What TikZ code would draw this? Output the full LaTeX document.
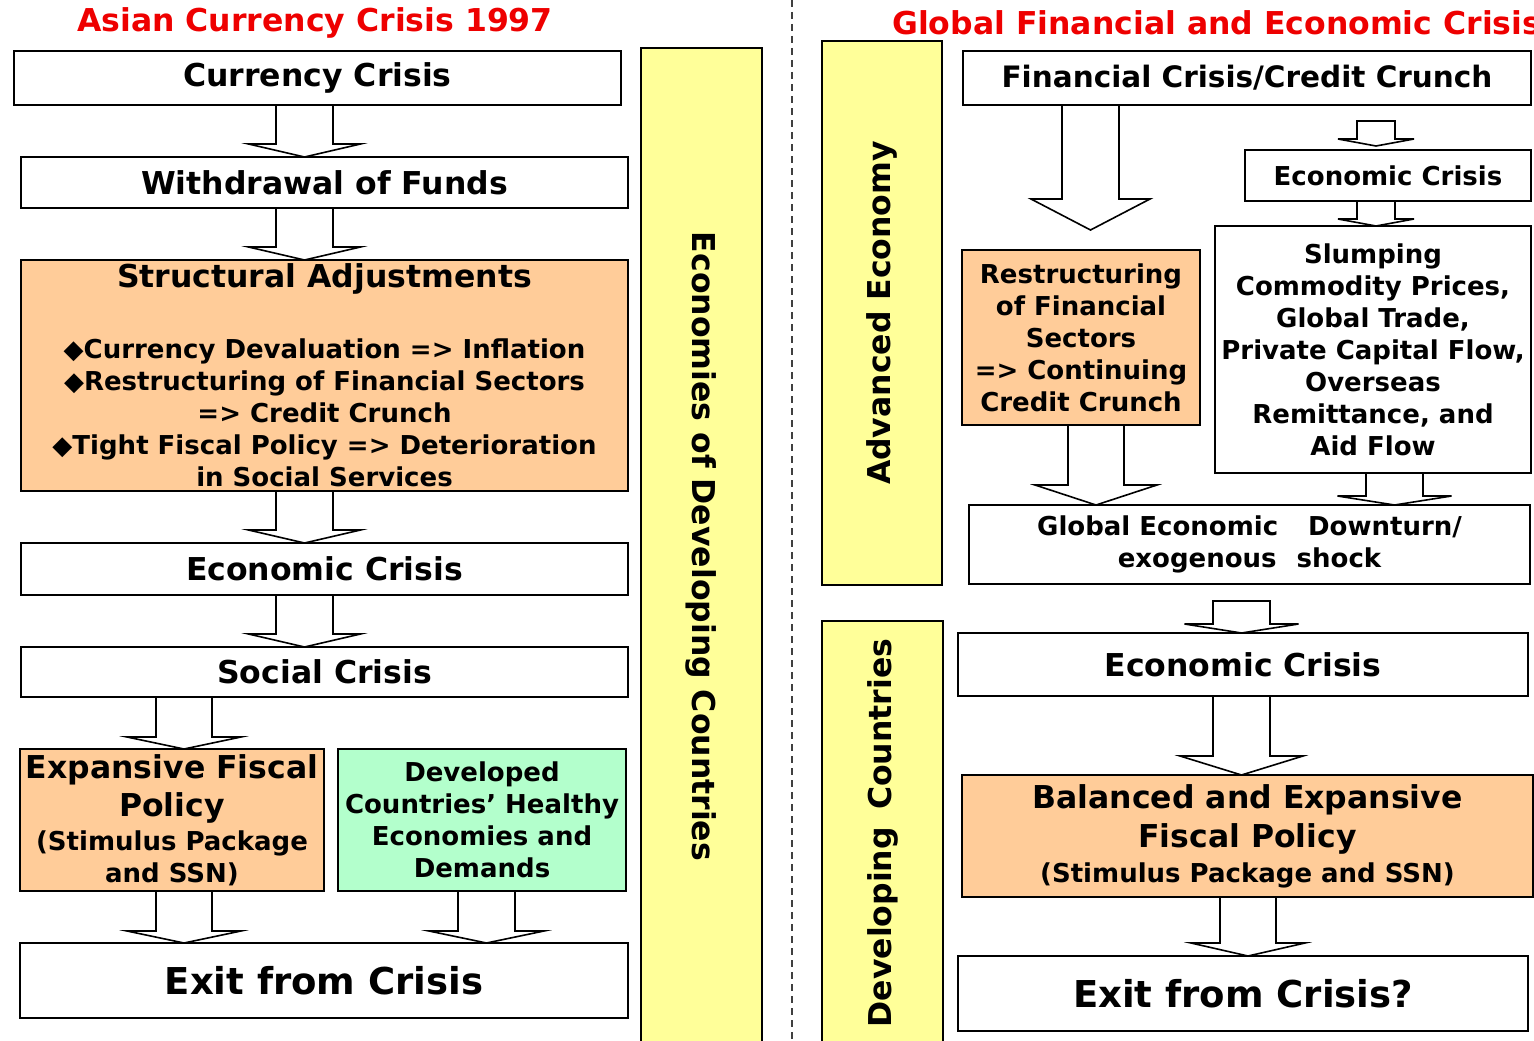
\documentclass[tikz,border=0pt]{standalone}
\usepackage{fontspec}
\setmainfont{DejaVu Sans}
\usetikzlibrary{calc}

\definecolor{crisisred}{HTML}{EE0000}
\definecolor{barfill}{HTML}{FFFF99}
\definecolor{policyfill}{HTML}{FFCC99}
\definecolor{helpfill}{HTML}{B3FFCC}

\newcommand{\fsbig}{\fontsize{31.5}{38}\selectfont}
\newcommand{\fshead}{\fontsize{29.5}{36}\selectfont}
\newcommand{\fsmid}{\fontsize{26}{32}\selectfont}
\newcommand{\fsexit}{\fontsize{37}{44}\selectfont}

% hollow block arrow: centre x, start, end, half shaft, half head, head length
\newcommand{\blockarrow}[6]{%
  \draw[hollow] let \p1=(#2), \p2=(#3) in
    ({(#1-#4)*1pt},\y1) -- ({(#1+#4)*1pt},\y1)
    -- ({(#1+#4)*1pt},{\y2+#6pt}) -- ({(#1+#5)*1pt},{\y2+#6pt})
    -- ({#1*1pt},\y2) -- ({(#1-#5)*1pt},{\y2+#6pt})
    -- ({(#1-#4)*1pt},{\y2+#6pt}) -- cycle;}

\begin{document}
\begin{tikzpicture}[x=1pt,y=-1pt,line join=miter]
    \tikzset{
        box/.style={
            draw,line width=2pt,fill=white,inner sep=0pt,outer sep=0pt,
            align=center,font=\fsbig\bfseries
        },
        policy/.style={box,fill=policyfill},
        helpbox/.style={box,fill=helpfill},
        band/.style={
            draw,line width=2pt,fill=barfill,inner sep=0pt,outer sep=0pt,
            font=\fsbig\bfseries
        },
        hollow/.style={draw,line width=1.6pt,fill=white},
        title/.style={text=crisisred,font=\fsbig\bfseries,inner sep=0pt}
    }
    \useasboundingbox (0,0) rectangle (1534,1041);

    % --- 1997 side ---
    \node[title] (asiantitle) at (315,23) {Asian Currency Crisis 1997};
    \node[box,minimum width=607pt,minimum height=54pt] (cc) at (317.5,78)
        {Currency Crisis};
    \node[box,minimum width=607pt,minimum height=51pt] (wf) at (324.5,182.5)
        {Withdrawal of Funds};
    \node[policy,font=\fsmid\bfseries,minimum width=607pt,minimum height=231pt]
        (sa) at (324.5,375.5)
        {{\fsbig Structural Adjustments}\\[39pt]
         ◆Currency Devaluation => Inflation\\
         ◆Restructuring of Financial Sectors\\
         => Credit Crunch\\
         ◆Tight Fiscal Policy => Deterioration\\
         in Social Services};
    \node[box,minimum width=607pt,minimum height=52pt] (ec) at (324.5,569)
        {Economic Crisis};
    \node[box,minimum width=607pt,minimum height=50pt] (sc) at (324.5,672)
        {Social Crisis};
    \node[policy,minimum width=304pt,minimum height=142pt] (ef) at (172,820)
        {Expansive Fiscal\\Policy\\[-4pt]
         {\fsmid (Stimulus Package}\\[-6pt]{\fsmid and SSN)}};
    \node[helpbox,font=\fsmid\bfseries,minimum width=288pt,minimum height=142pt]
        (dc) at (482,820)
        {Developed\\Countries’ Healthy\\Economies and\\Demands};
    \node[box,font=\fsexit\bfseries,minimum width=608pt,minimum height=75pt]
        (ex) at (324,980.5) {Exit from Crisis};

    \blockarrow{304.5}{cc.south}{wf.north}{28.5}{56}{13}
    \blockarrow{304.5}{wf.south}{sa.north}{28.5}{56}{13}
    \blockarrow{304.5}{sa.south}{ec.north}{28.5}{56}{13}
    \blockarrow{304.5}{ec.south}{sc.north}{28.5}{56}{13}
    \blockarrow{184}{sc.south}{ef.north}{28}{57}{12}
    \blockarrow{184}{ef.south}{ex.north}{28}{57}{12}
    \blockarrow{486.5}{dc.south}{ex.north}{28.5}{57.5}{12}

    \node[band,rotate=-90,minimum width=997pt,minimum height=121pt]
        (edc) at (701.5,546.5) {Economies of Developing Countries};

    % divider
    \draw[line width=1.3pt,black!75,dash pattern=on 7pt off 5pt]
        (792,0) -- (792,1041);

    % --- current crisis side ---
    \node[band,rotate=90,minimum width=544pt,minimum height=120pt]
        (adv) at (882,313) {Advanced Economy};
    \node[band,rotate=90,minimum width=424pt,minimum height=121pt]
        (dev) at (882.5,833) {Developing\hspace{0.55em}Countries};

    \node[title,anchor=west] (globaltitle) at (892,23)
        {Global Financial and Economic Crisis};
    \node[box,font=\fshead\bfseries,minimum width=568pt,minimum height=54pt]
        (fc) at (1247,78) {Financial Crisis/Credit Crunch};
    \node[box,font=\fsmid\bfseries,minimum width=286pt,minimum height=51pt]
        (ec2) at (1388,175.5) {Economic Crisis};
    \node[box,font=\fsmid\bfseries,minimum width=316pt,minimum height=247pt]
        (sl) at (1373,349.5)
        {Slumping\\Commodity Prices,\\Global Trade,\\Private Capital Flow,\\
         Overseas\\Remittance, and\\Aid Flow};
    \node[policy,font=\fsmid\bfseries,minimum width=238pt,minimum height=175pt]
        (rf) at (1081,337.5)
        {Restructuring\\of Financial\\Sectors\\=> Continuing\\Credit Crunch};
    \node[box,font=\fsmid\bfseries,minimum width=561pt,minimum height=79pt]
        (ge) at (1249.5,544.5)
        {Global Economic\hspace{1.15em}Downturn/\\exogenous\hspace{0.77em}shock};
    \node[box,minimum width=570pt,minimum height=63pt] (ec3) at (1243,664.5)
        {Economic Crisis};
    \node[policy,minimum width=571pt,minimum height=122pt] (bf) at (1247.5,836)
        {Balanced and Expansive\\[1pt]Fiscal Policy\\[-3pt]
         {\fsmid (Stimulus Package and SSN)}};
    \node[box,font=\fsexit\bfseries,minimum width=570pt,minimum height=75pt]
        (ex2) at (1243,993.5) {Exit from Crisis?};

    \coordinate (rfin) at ([yshift=20pt]rf.north);
    \coordinate (fcout) at ([yshift=-16pt]fc.south);
    \coordinate (ecin) at ([yshift=4pt]ec2.north);
    \coordinate (geout) at ([yshift=-17pt]ge.south);

    \blockarrow{1090.5}{fc.south}{rfin}{28.5}{59.5}{31}
    \blockarrow{1376}{fcout}{ecin}{19}{38}{7}
    \blockarrow{1376}{ec2.south}{sl.north}{19}{38}{7}
    \blockarrow{1096}{rf.south}{ge.north}{28}{61}{20}
    \blockarrow{1394.5}{sl.south}{ge.north}{28.5}{57}{9}
    \blockarrow{1241.5}{geout}{ec3.north}{28.5}{57}{9}
    \blockarrow{1241.5}{ec3.south}{bf.north}{28.5}{61.5}{19}
    \blockarrow{1248}{bf.south}{ex2.north}{28}{57}{13}
\end{tikzpicture}
\end{document}
